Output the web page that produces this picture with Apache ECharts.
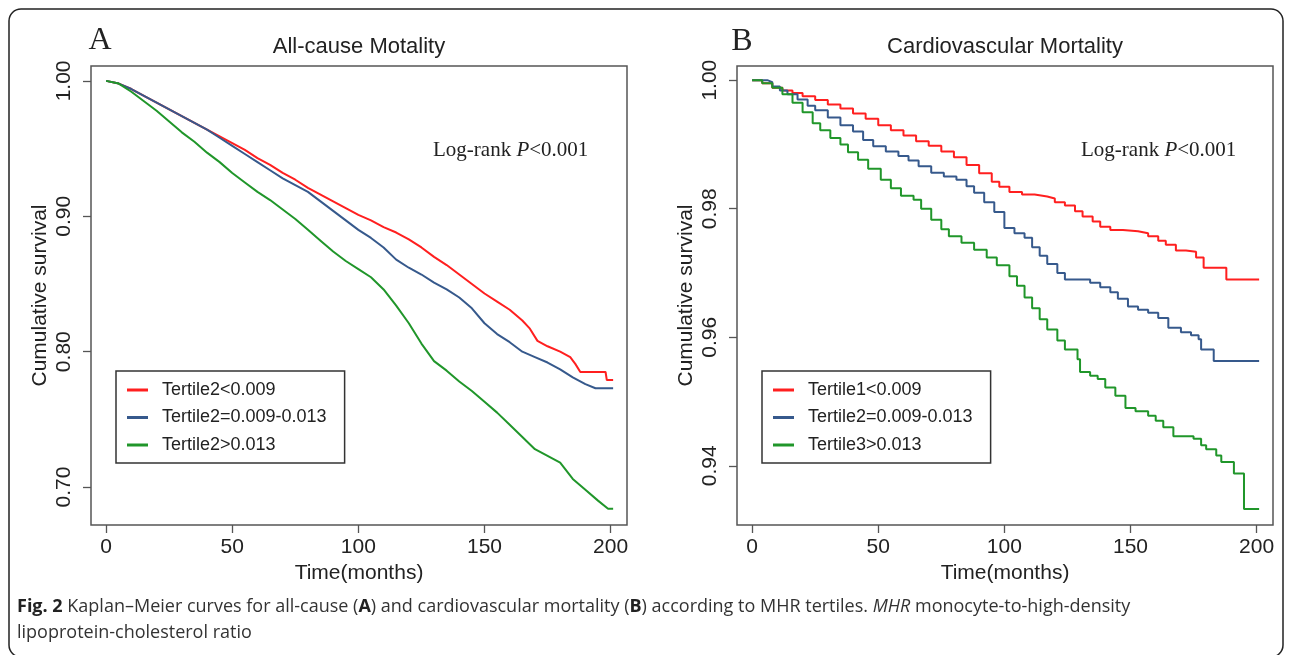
<!DOCTYPE html>
<html><head><meta charset="utf-8">
<script src="https://cdn.jsdelivr.net/npm/echarts@6/dist/echarts.min.js"></script>
<style>html,body{margin:0;padding:0;background:#fff}#c{width:1292px;height:655px}</style>
</head><body><div id="c"></div>
<script>
// ---------- tick labels ----------
const xTicks = [0, 50, 100, 150, 200];
const yTicksA = [0.70, 0.80, 0.90, 1.00];
const yTicksB = [0.94, 0.96, 0.98, 1.00];

// ---------- panel A: all-cause mortality ----------
const namesA = ['Tertile2<0.009', 'Tertile2=0.009-0.013', 'Tertile2>0.013'];
const tA1 = [0,5,10,15,20,25,30,35,40,45,50,55,60,65,70,75,80,85,90,95,100,105,110,115,120,125,130,135,140,145,150,155,160,165,168,171,175,180,184,186,188,198,198.5,201];
const sA1 = [1.000,0.998,0.994,0.989,0.984,0.979,0.974,0.969,0.964,0.959,0.954,0.949,0.943,0.938,0.932,0.927,0.921,0.916,0.911,0.906,0.901,0.897,0.892,0.888,0.883,0.877,0.870,0.864,0.857,0.850,0.843,0.837,0.831,0.823,0.817,0.808,0.804,0.800,0.796,0.791,0.785,0.785,0.779,0.779];
const tA2 = [0,5,10,15,20,25,30,35,40,45,50,55,60,65,70,75,80,85,90,95,100,105,110,115,120,125,130,135,140,145,150,155,160,165,170,175,180,185,190,194,201];
const sA2 = [1.000,0.998,0.994,0.989,0.984,0.979,0.974,0.969,0.964,0.958,0.952,0.946,0.940,0.934,0.928,0.923,0.918,0.911,0.904,0.897,0.890,0.884,0.877,0.868,0.862,0.857,0.851,0.846,0.840,0.832,0.821,0.813,0.807,0.800,0.796,0.792,0.787,0.781,0.776,0.773,0.773];
const tA3 = [0,5,10,15,20,25,30,35,40,45,50,55,60,65,70,75,80,85,90,95,100,105,110,115,120,125,130,135,140,145,150,155,160,165,170,175,180,185,190,195,199,201];
const sA3 = [1.000,0.998,0.992,0.985,0.978,0.970,0.962,0.955,0.947,0.940,0.932,0.925,0.918,0.912,0.905,0.898,0.890,0.882,0.874,0.867,0.861,0.855,0.846,0.834,0.821,0.806,0.793,0.786,0.778,0.771,0.763,0.755,0.746,0.737,0.728,0.723,0.718,0.706,0.698,0.690,0.684,0.684];

// ---------- panel B: cardiovascular mortality ----------
const namesB = ['Tertile1<0.009', 'Tertile2=0.009-0.013', 'Tertile3>0.013'];
const tB1 = [0,4,8,12,16,20,25,30,35,40,45,50,55,60,65,70,75,80,85,90,95,98,102,107,112,117,120,124,128,131,135,138,142,147,153,157,161,164,168,172,176,179,188,201];
const sB1 = [1.0000,0.9995,0.9988,0.9984,0.9980,0.9975,0.9969,0.9962,0.9956,0.9948,0.9940,0.9930,0.9922,0.9914,0.9905,0.9898,0.9889,0.9880,0.9868,0.9855,0.9842,0.9834,0.9826,0.9822,0.9819,0.9816,0.9810,0.9805,0.9796,0.9788,0.9780,0.9772,0.9767,0.9765,0.9762,0.9757,0.9750,0.9744,0.9735,0.9733,0.9724,0.9708,0.9690,0.9690];
const tB2 = [0,6,8,11,14,18,22,25,30,35,40,44,48,53,58,62,66,71,76,81,85,88,92,96,100,104,108,111,114,117,121,124,128,134,138,142,145,149,153,157,161,165,170,174,177,178,181,183,201];
const sB2 = [1.0000,0.9997,0.9990,0.9984,0.9978,0.9970,0.9960,0.9953,0.9942,0.9930,0.9920,0.9907,0.9897,0.9889,0.9882,0.9875,0.9866,0.9856,0.9850,0.9845,0.9835,0.9825,0.9810,0.9795,0.9770,0.9762,0.9755,0.9740,0.9727,0.9714,0.9700,0.9690,0.9690,0.9685,0.9678,0.9670,0.9660,0.9648,0.9643,0.9638,0.9630,0.9615,0.9608,0.9603,0.9597,0.9581,0.9581,0.9563,0.9563];
const tB3 = [0,4,8,12,16,20,24,27,31,35,38,42,46,51,55,59,64,67,71,75,78,83,88,93,97,102,105,108,111,114,117,121,124,129,130,134,137,140,144,148,152,157,160,163,167,175,178,180,184,186,191,195,201];
const sB3 = [1.0000,0.9995,0.9988,0.9978,0.9965,0.9950,0.9933,0.9922,0.9910,0.9900,0.9888,0.9876,0.9862,0.9845,0.9832,0.9820,0.9814,0.9800,0.9783,0.9768,0.9757,0.9747,0.9736,0.9724,0.9712,0.9695,0.9680,0.9662,0.9645,0.9628,0.9612,0.9595,0.9581,0.9566,0.9546,0.9540,0.9535,0.9522,0.9509,0.9490,0.9485,0.9478,0.9470,0.9460,0.9446,0.9442,0.9432,0.9426,0.9416,0.9406,0.9388,0.9333,0.9333];

const colors = ['#ff1f1f', '#36598c', '#20962a'];
const SANS = "'Liberation Sans', Arial, sans-serif";
const SERIF = "'Liberation Serif', 'Times New Roman', serif";

function zip(t, s) { return t.map((v, i) => [v, s[i]]); }

const chart = echarts.init(document.getElementById('c'));

function xAx(gi) {
  return {
    gridIndex: gi, type: 'value', min: -6, max: 206.5,
    splitLine: { show: false },
    axisLine: { show: false, onZero: false },
    axisTick: { show: true, customValues: xTicks, length: 8, lineStyle: { color: '#555', width: 1.3 } },
    axisLabel: { customValues: xTicks, margin: 12, fontSize: 21, color: '#222', fontFamily: SANS },
    name: 'Time(months)', nameLocation: 'middle', nameGap: 37,
    nameTextStyle: { fontSize: 21, color: '#222', fontFamily: SANS }
  };
}
function yAx(gi, mn, mx, ticks) {
  return {
    gridIndex: gi, type: 'value', min: mn, max: mx,
    splitLine: { show: false },
    axisLine: { show: false, onZero: false },
    axisTick: { show: true, customValues: ticks, length: 8, lineStyle: { color: '#555', width: 1.3 } },
    axisLabel: { customValues: ticks, rotate: 90, margin: 16, fontSize: 21, color: '#222', fontFamily: SANS,
      formatter: v => Number(v).toFixed(2) },
    name: 'Cumulative survival', nameLocation: 'middle', nameRotate: 90, nameGap: 40,
    nameTextStyle: { fontSize: 21, color: '#222', fontFamily: SANS }
  };
}
function ser(name, t, s, xi, ci, step) {
  return {
    type: 'line', name: name, xAxisIndex: xi, yAxisIndex: xi,
    data: zip(t, s), step: step ? 'end' : false,
    showSymbol: false, symbol: 'none', color: colors[ci],
    lineStyle: { color: colors[ci], width: 2 }, animation: false, silent: true
  };
}
function leg(names, left) {
  return {
    data: names, orient: 'vertical', left: left, top: 371,
    padding: [10, 18, 9, 11], itemGap: 9.5, itemWidth: 21, itemHeight: 3, icon: 'rect',
    borderColor: '#333', borderWidth: 1.5, selectedMode: false,
    textStyle: { fontSize: 18, color: '#222', fontFamily: SANS, lineHeight: 18, padding: [0, 0, 0, 9] }
  };
}
function txt(x, y, text, font, align) {
  return { type: 'text', x: x, y: y, silent: true,
    style: { text: text, font: font, fill: '#222', align: align || 'left', textAlign: align || 'left',
      verticalAlign: 'middle', textVerticalAlign: 'middle' } };
}
function logrank(x, y) {
  return { type: 'text', x: x, y: y, silent: true,
    style: { text: '{n|Log-rank }{i|P}{n|<0.001}', fill: '#222', verticalAlign: 'middle', textVerticalAlign: 'middle',
      rich: { n: { fontSize: 21, fontFamily: SERIF, fill: '#222' }, i: { fontSize: 21, fontFamily: SERIF, fontStyle: 'italic', fill: '#222' } } } };
}

const capRich = {
  n: { fontSize: 18, fontFamily: "'Open Sans', sans-serif", fill: '#333' },
  b: { fontSize: 18, fontFamily: "'Open Sans', sans-serif", fontWeight: 'bold', fill: '#222' },
  i: { fontSize: 18, fontFamily: "'Open Sans', sans-serif", fontStyle: 'italic', fill: '#333' }
};

chart.setOption({
  backgroundColor: '#fff',
  animation: false,
  grid: [
    { left: 91, top: 66, width: 536, height: 459, show: true, borderColor: '#555', borderWidth: 1.5, backgroundColor: 'transparent' },
    { left: 737, top: 66, width: 536, height: 459, show: true, borderColor: '#555', borderWidth: 1.5, backgroundColor: 'transparent' }
  ],
  xAxis: [xAx(0), xAx(1)],
  yAxis: [yAx(0, 0.672, 1.011, yTicksA), yAx(1, 0.9308, 1.0022, yTicksB)],
  legend: [leg(namesA, 116), leg(namesB, 762)],
  series: [
    ser(namesA[0], tA1, sA1, 0, 0, false),
    ser(namesA[1], tA2, sA2, 0, 1, false),
    ser(namesA[2], tA3, sA3, 0, 2, false),
    ser(namesB[0], tB1, sB1, 1, 0, true),
    ser(namesB[1], tB2, sB2, 1, 1, true),
    ser(namesB[2], tB3, sB3, 1, 2, true)
  ],
  graphic: [
    { type: 'rect', silent: true, shape: { x: 9, y: 9, width: 1274, height: 648, r: 12 },
      style: { fill: 'none', stroke: '#222', lineWidth: 1.5 } },
    txt(100, 41, 'A', '32px ' + SERIF, 'center'),
    txt(742, 42, 'B', '32px ' + SERIF, 'center'),
    txt(359, 47, 'All-cause Motality', '22px ' + SANS, 'center'),
    txt(1005, 47, 'Cardiovascular Mortality', '22px ' + SANS, 'center'),
    logrank(433, 150),
    logrank(1081, 150),
    { type: 'text', x: 17, y: 607, silent: true,
      style: { text: '{b|Fig. 2}{n| Kaplan–Meier curves for all-cause (}{b|A}{n|) and cardiovascular mortality (}{b|B}{n|) according to MHR tertiles. }{i|MHR}{n| monocyte-to-high-density}',
        verticalAlign: 'middle', textVerticalAlign: 'middle', rich: capRich } },
    { type: 'text', x: 17, y: 633, silent: true,
      style: { text: '{n|lipoprotein-cholesterol ratio}', verticalAlign: 'middle', textVerticalAlign: 'middle', rich: capRich } }
  ]
});
</script></body></html>
